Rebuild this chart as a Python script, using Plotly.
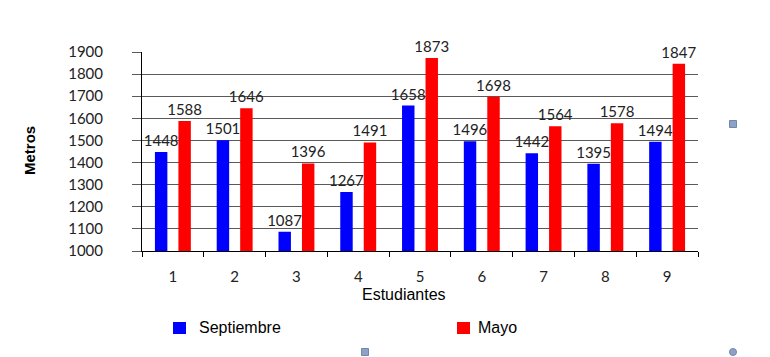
import plotly.graph_objects as go

categories = ["1", "2", "3", "4", "5", "6", "7", "8", "9"]
septiembre = [1448, 1501, 1087, 1267, 1658, 1496, 1442, 1395, 1494]
mayo = [1588, 1646, 1396, 1491, 1873, 1698, 1564, 1578, 1847]
y_ticks = [1000, 1100, 1200, 1300, 1400, 1500, 1600, 1700, 1800, 1900]
series_names = ["Septiembre", "Mayo"]
series_colors = ["#0000FF", "#FF0000"]

label_font = dict(family="Lato", size=15, color="#222222")

OFF = 8  # default page body margin
W, H = 770 - OFF, 357 - OFF
l, t = 142 - OFF, 52 - OFF
r = W - (698 - OFF)
b = H - (251 - OFF)
pw, ph = W - l - r, H - t - b
def px(xs): return (xs - OFF - l) / pw
def py(ys): return (H - b - (ys - OFF)) / ph

fig = go.Figure()
for name, vals, col in zip(series_names, [septiembre, mayo], series_colors):
    fig.add_trace(go.Bar(
        x=categories, y=vals, name=name,
        marker=dict(color=col, line=dict(width=0)),
        text=[str(v) for v in vals], textposition="outside",
        textfont=label_font, constraintext="none", cliponaxis=False,
        showlegend=False,
    ))

fig.update_layout(
    width=W, height=H,
    margin=dict(l=l, r=r, t=t, b=b, autoexpand=False),
    paper_bgcolor="white", plot_bgcolor="white",
    barmode="group", bargap=0.24, bargroupgap=0.47,
    showlegend=False,
    xaxis=dict(
        type="category", showgrid=False, showline=True, linecolor="black", linewidth=1,
        ticks="outside", tickson="boundaries", ticklen=5, tickcolor="black",
        tickfont=dict(family="Lato", size=15, color="#222222"), ticklabelstandoff=12,
    ),
    yaxis=dict(
        range=[1000, 1900], tickvals=y_ticks, showgrid=True, gridcolor="#5a5a5a", gridwidth=1,
        showline=True, linecolor="black", linewidth=1, zeroline=False,
        ticks="outside", ticklen=9, tickcolor="#5a5a5a",
        tickfont=dict(family="Lato", size=15, color="#222222"), ticklabelstandoff=26,
    ),
)

fig.add_annotation(text="Estudiantes", x=px(404), y=py(294), xref="paper", yref="paper",
                   xanchor="center", yanchor="middle", showarrow=False,
                   font=dict(family="Liberation Sans", size=16, color="black"))
fig.add_annotation(text="<b>Metros</b>", x=px(29), y=py(150), xref="paper", yref="paper",
                   xanchor="center", yanchor="middle", showarrow=False, textangle=-90,
                   font=dict(family="Liberation Sans", size=15, color="black"))

# manual legend
legend_x = [173, 457]
legend_text_x = [197, 476]
for name, col, sx, tx in zip(series_names, series_colors, legend_x, legend_text_x):
    fig.add_shape(type="rect", xref="paper", yref="paper",
                  x0=px(sx), x1=px(sx + 13), y0=py(334), y1=py(322),
                  fillcolor=col, line=dict(width=0))
    fig.add_annotation(text=name, x=px(tx), y=py(327), xref="paper", yref="paper",
                       xanchor="left", yanchor="middle", showarrow=False,
                       font=dict(family="Liberation Sans", size=16, color="black"))

# selection handles (decoration)
for (hx, hy) in [(733, 124), (365, 352)]:
    fig.add_shape(type="rect", xref="paper", yref="paper",
                  x0=px(hx - 3.5), x1=px(hx + 3.5), y0=py(hy + 3.5), y1=py(hy - 3.5),
                  fillcolor="#8da2c4", line=dict(color="#6f86ad", width=1))
fig.add_shape(type="circle", xref="paper", yref="paper",
              x0=px(729.5), x1=px(736.5), y0=py(355.5), y1=py(348.5),
              fillcolor="#8da2c4", line=dict(color="#6f86ad", width=1))

fig.write_html("out.html")
